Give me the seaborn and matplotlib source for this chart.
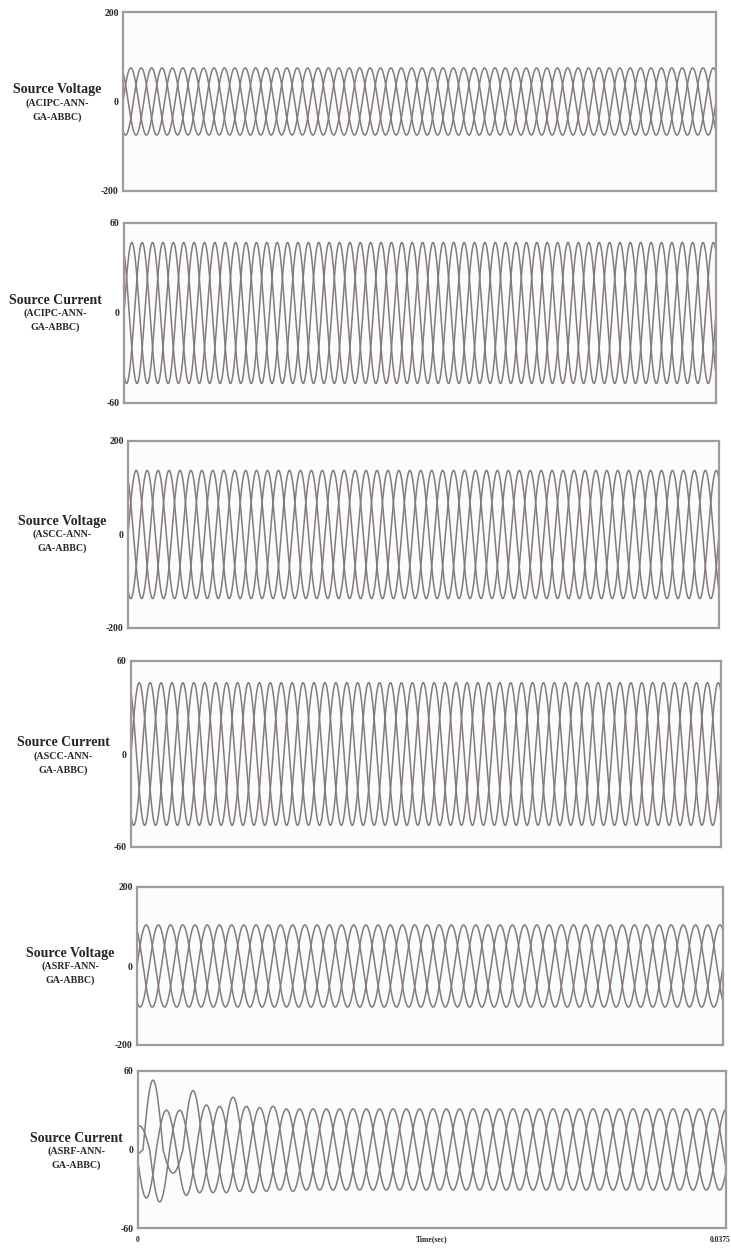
import numpy as np
import pandas as pd
import matplotlib
matplotlib.use("Agg")
import matplotlib.pyplot as plt
import seaborn as sns

# ---------------- data ----------------
titles = ["Source Voltage", "Source Current", "Source Voltage",
          "Source Current", "Source Voltage", "Source Current"]
methods = ["(ACIPC-ANN-", "(ACIPC-ANN-", "(ASCC-ANN-",
           "(ASCC-ANN-", "(ASRF-ANN-", "(ASRF-ANN-"]
method_tail = "GA-ABBC)"
y_limits = [200, 60, 200, 60, 200, 60]
amplitudes = [75, 47, 137, 46, 104, 31]          # steady-state peak values
cycles = [19, 19, 18, 18, 16, 14.7]              # cycles shown in the window
phase_shift_deg = [0, 0, 0, 0, 0, -45]
t_end = 0.0375
x_tick_labels = ["0", "0.0375"]
x_label = "Time(sec)"

# start-up transient of the last current panel: peak of each half cycle per phase
transient_a = [5, 53, 18, 45, 33, 40, 33, 33, 32]
transient_b = [37, 30, 35, 34, 33, 33, 32, 31]
transient_c = [18, 40, 30, 33, 33, 32, 32, 31]

# ---------------- styling / layout ----------------
sns.set_style("white")
plt.rcParams["font.family"] = ["Liberation Serif", "DejaVu Serif"]

W, H = 731, 1251
fig = plt.figure(figsize=(W / 100, H / 100), dpi=100)
fig.patch.set_facecolor("white")

# (left, right, top, bottom) in pixels
boxes = [(123, 716, 12, 191), (124, 716, 223, 403), (128, 719, 441, 628),
         (131, 721, 661, 847), (137, 723, 887, 1045), (138, 726, 1071, 1228)]
label_pos = [(57, 90), (55, 300), (62, 521), (63, 743), (70, 953), (76, 1138)]

line_col = "#857a76"
spine_col = "#a39a95"
txt_col = "#262626"


def rect(l, r, t, b):
    return [l / W, 1 - b / H, (r - l) / W, (b - t) / H]


def waveform(i):
    n = 4000
    t = np.linspace(0, t_end, n)
    f = cycles[i] / t_end
    phi0 = np.deg2rad(phase_shift_deg[i])
    rows = []
    offsets = [0, -2 * np.pi / 3, 2 * np.pi / 3]
    trans = [transient_a, transient_b, transient_c]
    for k, off in enumerate(offsets):
        ang = 2 * np.pi * f * t + phi0 + off
        y = np.sin(ang) * amplitudes[i]
        if i == 5:
            half = (np.floor(ang / np.pi) - np.floor(ang[0] / np.pi)).astype(int)
            env = np.array([trans[k][h] if h < len(trans[k]) else amplitudes[i]
                            for h in half])
            y = np.sin(ang) * env
        rows.append(pd.DataFrame({"t": t, "v": y, "phase": k}))
    return pd.concat(rows, ignore_index=True)


for i, box in enumerate(boxes):
    ax = fig.add_axes(rect(*box))
    ax.set_facecolor("#fbfcfd")
    df = waveform(i)
    sns.lineplot(data=df, x="t", y="v", units="phase", estimator=None,
                 color=line_col, lw=1.1, ax=ax, legend=False)
    L = y_limits[i]
    ax.set_xlim(0, t_end)
    ax.set_ylim(-L, L)
    ax.set_yticks([-L, 0, L])
    ax.set_yticklabels([f"-{L}", "0", f"{L}"], fontsize=7, fontweight="bold",
                       color=txt_col)
    ax.tick_params(axis="y", direction="in", length=3, width=0.8, pad=3,
                   color=spine_col)
    for s in ax.spines.values():
        s.set_color(spine_col)
        s.set_linewidth(1.6)
    ax.set_ylabel("")
    if i < 5:
        ax.set_xticks([])
        ax.set_xlabel("")
    else:
        ax.set_xticks([0])
        ax.set_xticklabels(x_tick_labels[:1], fontsize=5.5, fontweight="bold",
                           color=txt_col)
        ax.tick_params(axis="x", length=0, pad=6)
        ax.set_xlabel(x_label, fontsize=5.5, fontweight="bold", color=txt_col)
        ax.xaxis.set_label_coords(0.5, -0.045)
        fig.text(730 / W, 1 - 1240 / H, x_tick_labels[1], ha="right",
                 va="center", fontsize=5.5, fontweight="bold", color=txt_col)

    lx, ly = label_pos[i]
    fig.text(lx / W, 1 - ly / H, titles[i], ha="center", va="center",
             fontsize=10, fontweight="bold", color=txt_col)
    fig.text(lx / W, 1 - (ly + 13.5) / H, methods[i], ha="center", va="center",
             fontsize=7.2, fontweight="bold", color=txt_col)
    fig.text(lx / W, 1 - (ly + 27) / H, method_tail, ha="center", va="center",
             fontsize=7.2, fontweight="bold", color=txt_col)

fig.savefig("out.png", dpi=100, facecolor="white")
